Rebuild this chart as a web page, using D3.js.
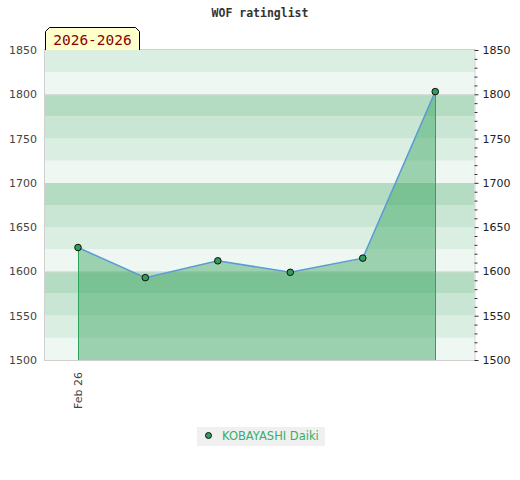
<!DOCTYPE html>
<html><head><meta charset="utf-8">
<script src="https://cdn.jsdelivr.net/npm/d3@7"></script>
<style>body{margin:0;background:#fff}svg{display:block}</style>
</head><body>
<script>
const title = "WOF ratinglist";
const periodLabel = "2026-2026";
const seriesName = "KOBAYASHI Daiki";
const dates = ["2026-02-26", "2026-03-11", "2026-03-25", "2026-04-08", "2026-04-22", "2026-05-06"];
const ratings = [1627, 1593, 1612, 1599, 1615, 1803];
const xDomain = ["2026-02-19T15:00", "2026-05-13T14:00"];
const yDomain = [1500, 1850];
const yTicks = [1500, 1550, 1600, 1650, 1700, 1750, 1800, 1850];
const xTickLabels = ["Feb 26"];
const bandColors = ["#b3dcc2", "#c8e6d3", "#dbeee2", "#eef7f1"];

const W = 520, H = 480;
const m = {l: 45, r: 45.5, t: 50, b: 120};
const svg = d3.select("body").append("svg").attr("width", W).attr("height", H);
const parse = d3.timeParse("%Y-%m-%d");
const parseT = d3.timeParse("%Y-%m-%dT%H:%M");
const data = dates.map((d, i) => ({date: parse(d), v: ratings[i]}));

const x = d3.scaleTime().domain(xDomain.map(parseT)).range([m.l, W - m.r]);
const y = d3.scaleLinear().domain(yDomain).range([H - m.b, m.t]);

// bands of 25: within each 100 block, darkest at top
const bands = d3.range(yDomain[0], yDomain[1], 25);
const bandIdx = d => (((1675 - d) / 25) % 4 + 4) % 4;
svg.append("g").selectAll("rect").data(bands).join("rect")
  .attr("x", m.l).attr("width", W - m.r - m.l)
  .attr("y", d => y(d + 25)).attr("height", d => y(d) - y(d + 25))
  .attr("fill", d => bandColors[bandIdx(d)]);

// gridlines at 100s
svg.append("g").selectAll("line").data([1600, 1800]).join("line")
  .attr("x1", m.l).attr("x2", W - m.r).attr("y1", d => y(d) + 0.5).attr("y2", d => y(d) + 0.5)
  .attr("stroke", "#d8d8d8").attr("stroke-width", 1);

// frame
svg.append("rect").attr("x", m.l - 0.5).attr("y", m.t - 0.5)
  .attr("width", W - m.r - m.l + 1).attr("height", H - m.b - m.t + 1)
  .attr("fill", "none").attr("stroke", "#d0d0d0");

// area
const area = d3.area().x(d => x(d.date)).y0(y(yDomain[0])).y1(d => y(d.v));
svg.append("path").datum(data).attr("d", area).attr("fill", "#2fa159").attr("fill-opacity", 0.43);
[data[0], data[data.length - 1]].forEach(d => {
  svg.append("line").attr("x1", Math.round(x(d.date)) + 0.5).attr("x2", Math.round(x(d.date)) + 0.5)
    .attr("y1", y(d.v)).attr("y2", y(yDomain[0])).attr("stroke", "#2ea35a").attr("stroke-width", 1);
});
const line = d3.line().x(d => x(d.date)).y(d => y(d.v));
svg.append("path").datum(data).attr("d", line).attr("fill", "none").attr("stroke", "#5b9bd5").attr("stroke-width", 1.5);
svg.append("g").selectAll("circle").data(data).join("circle")
  .attr("cx", d => x(d.date)).attr("cy", d => y(d.v)).attr("r", 3.3)
  .attr("fill", "#2e9e58").attr("stroke", "#111").attr("stroke-width", 1);

// left axis
const yAxisL = d3.axisLeft(y).tickValues(yTicks).tickSize(0).tickPadding(8).tickFormat(d3.format("d"));
const gl = svg.append("g").attr("transform", `translate(${m.l},0)`).call(yAxisL);
gl.select(".domain").remove();
gl.selectAll("text").attr("font-family", "DejaVu Sans").attr("font-size", 11).attr("fill", "#444");

// right axis with minor ticks
const minor = d3.range(yDomain[0], yDomain[1] + 1, 10).filter(v => v % 50 !== 0);
const xr = W - m.r;
const gr = svg.append("g").attr("transform", `translate(${xr},0)`);
gr.call(d3.axisRight(y).tickValues(minor).tickSize(3).tickFormat(""));
gr.select(".domain").remove();
gr.selectAll("line").attr("stroke", "#333");
const gr2 = svg.append("g").attr("transform", `translate(${xr},0)`)
  .call(d3.axisRight(y).tickValues(yTicks).tickSize(4).tickPadding(4).tickFormat(d3.format("d")));
gr2.select(".domain").remove();
gr2.selectAll("line").attr("stroke", "#333");
gr2.selectAll("text").attr("font-family", "DejaVu Sans").attr("font-size", 11).attr("fill", "#222");

// x axis label
const gx = svg.append("g").attr("transform", `translate(0,${H - m.b})`)
  .call(d3.axisBottom(x).tickValues([data[0].date]).tickSize(0).tickFormat((d, i) => xTickLabels[i]));
gx.select(".domain").remove();
gx.selectAll("text").attr("font-family", "DejaVu Sans").attr("font-size", 11).attr("fill", "#444")
  .attr("text-anchor", "end").attr("dy", "0.35em")
  .attr("transform", "translate(0,12) rotate(-90)").attr("x", 0).attr("y", 0);

// title
svg.append("text").attr("x", 260).attr("y", 17).attr("text-anchor", "middle")
  .attr("font-family", "DejaVu Sans Mono").attr("font-weight", "bold").attr("font-size", 11.5)
  .attr("fill", "#333").text(title);

// period tag
const tx0 = 45, tx1 = 140, ty0 = 27, ty1 = 50;
svg.append("path").attr("d", `M${tx0 + 0.5},${ty1} L${tx0 + 0.5},${ty0 + 4.5} L${tx0 + 4.5},${ty0 + 0.5} L${tx1 - 4.5},${ty0 + 0.5} L${tx1 - 0.5},${ty0 + 4.5} L${tx1 - 0.5},${ty1}`)
  .attr("fill", "#ffffcc").attr("stroke", "#000").attr("stroke-width", 1);
svg.append("text").attr("x", (tx0 + tx1) / 2).attr("y", 45).attr("text-anchor", "middle")
  .attr("font-family", "DejaVu Sans Mono").attr("font-size", 14.5).attr("fill", "#8b0000").text(periodLabel);

// legend
const lg = svg.append("g");
lg.append("rect").attr("x", 197).attr("y", 427).attr("width", 128).attr("height", 19).attr("fill", "#f0f0f0");
lg.append("circle").attr("cx", 208.5).attr("cy", 435.5).attr("r", 3).attr("fill", "#2e9e58").attr("stroke", "#111");
lg.append("text").attr("x", 222).attr("y", 440).attr("font-family", "DejaVu Sans").attr("font-size", 11.5)
  .attr("fill", "#3aad66").text(seriesName);
</script>
</body></html>
